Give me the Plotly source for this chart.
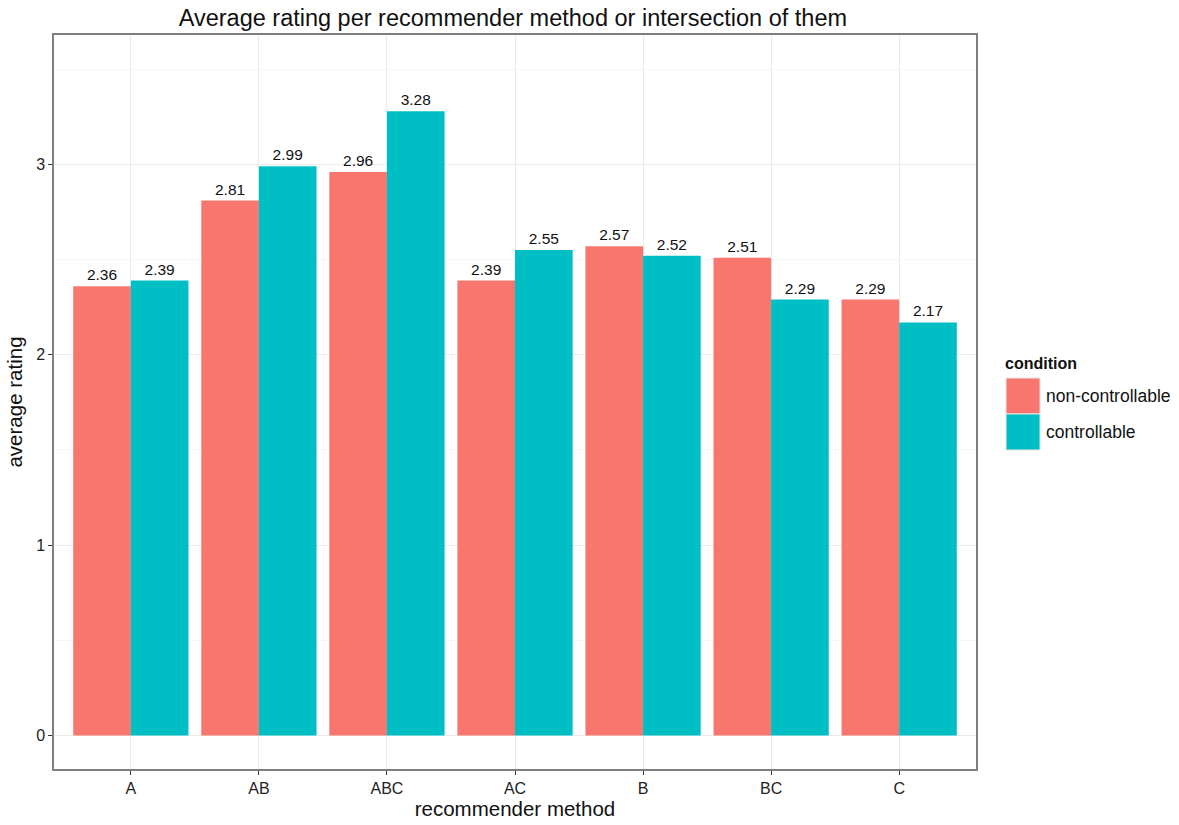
import plotly.graph_objects as go

# Average rating per recommender method, split by condition
methods = ["A", "AB", "ABC", "AC", "B", "BC", "C"]
non_controllable = [2.36, 2.81, 2.96, 2.39, 2.57, 2.51, 2.29]
controllable = [2.39, 2.99, 3.28, 2.55, 2.52, 2.29, 2.17]
series_names = ["non-controllable", "controllable"]
series_colors = ["#F8766D", "#00BFC4"]

FONT = "Liberation Sans, Arial, sans-serif"

fig = go.Figure()
for name, vals, col in zip(series_names, [non_controllable, controllable], series_colors):
    fig.add_trace(go.Bar(
        x=methods, y=vals, name=name,
        marker=dict(color=col, line=dict(width=0)),
        text=[f"{v:.2f}" for v in vals],
        textposition="outside",
        textfont=dict(family=FONT, size=15.5, color="#111111"),
        constraintext="none",
        cliponaxis=False,
        showlegend=False,
    ))

fig.update_layout(
    width=1179, height=825,
    margin=dict(l=54, r=203, t=35, b=56),
    barmode="group", bargap=0.1, bargroupgap=0,
    plot_bgcolor="white", paper_bgcolor="white",
    font=dict(family=FONT, size=15, color="#222222"),
    title=dict(text="Average rating per recommender method or intersection of them",
               x=0.435, xanchor="center", y=0.978, yanchor="middle",
               font=dict(size=23.5, color="#111111")),
    uniformtext=dict(mode=False),
)

fig.update_xaxes(
    range=[-0.6, 6.6],
    automargin=False,
    showgrid=True, gridcolor="#ebebeb", gridwidth=1,
    showline=True, linecolor="#7f7f7f", linewidth=1.5, mirror=True,
    ticks="outside", ticklen=4, tickcolor="#333333",
    tickfont=dict(size=16, color="#222222"),
    title=dict(text="recommender method", font=dict(size=20.5, color="#111111"), standoff=6),
    zeroline=False,
)
fig.update_yaxes(
    range=[-0.176, 3.68],
    automargin=False,
    tickvals=[0, 1, 2, 3],
    showgrid=True, gridcolor="#ebebeb", gridwidth=1,
    minor=dict(tickvals=[0.5, 1.5, 2.5, 3.5], showgrid=True, gridcolor="#f7f7f7", gridwidth=1),
    showline=True, linecolor="#7f7f7f", linewidth=1.5, mirror=True,
    ticks="outside", ticklen=4, tickcolor="#333333",
    tickfont=dict(size=16, color="#222222"),
    title=dict(text="average rating", font=dict(size=20.5, color="#111111"), standoff=8),
    zeroline=False,
)

# Legend drawn with paper-anchored key boxes and labels
legend_x0, legend_key_w, legend_key_h = 1006, 34, 36
legend_top = 378
plot_l, plot_r, plot_t, plot_b = 54, 976, 35, 769


def to_paper_x(x):
    return (x - plot_l) / (plot_r - plot_l)


def to_paper_y(y):
    return (plot_b - y) / (plot_b - plot_t)


fig.add_annotation(x=to_paper_x(1003), y=to_paper_y(363), xref="paper", yref="paper",
                   text="<b>condition</b>", showarrow=False, xanchor="left", yanchor="middle",
                   font=dict(size=16, color="#111111"))
for i, (name, col) in enumerate(zip(series_names, series_colors)):
    y0 = legend_top + i * legend_key_h
    fig.add_shape(type="rect", xref="paper", yref="paper",
                  x0=to_paper_x(legend_x0), x1=to_paper_x(legend_x0 + legend_key_w),
                  y0=to_paper_y(y0), y1=to_paper_y(y0 + legend_key_h),
                  fillcolor=col, line=dict(color="#e6e6e6", width=1))
    fig.add_annotation(x=to_paper_x(legend_x0 + legend_key_w + 4),
                       y=to_paper_y(y0 + legend_key_h / 2), xref="paper", yref="paper",
                       text=name, showarrow=False, xanchor="left", yanchor="middle",
                       font=dict(size=17.5, color="#111111"))

fig.write_html("out.html")
